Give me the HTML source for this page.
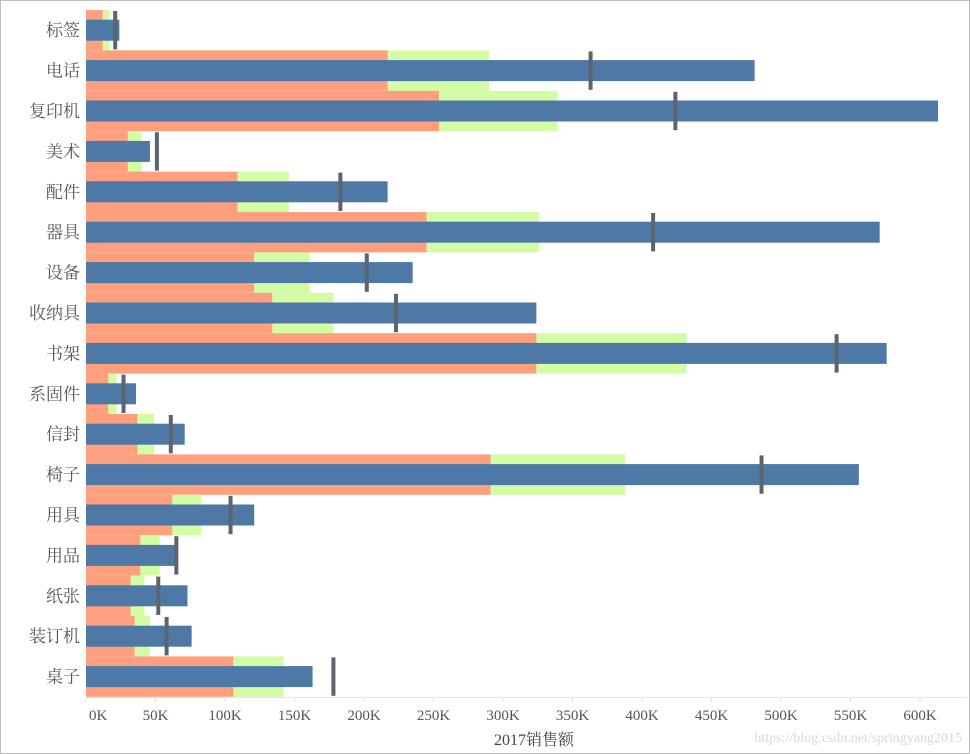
<!DOCTYPE html>
<html><head><meta charset="utf-8"><style>
body{margin:0;background:#fff;}
#wrap{position:relative;width:968px;height:752px;border:1px solid #bdbdbd;overflow:hidden;}
svg text{font-family:"Liberation Serif","Noto Serif CJK SC",serif;}
</style></head><body>
<div id="wrap">
<svg id="chart" width="968" height="752"></svg>
</div>
<script>
const categories=["标签","电话","复印机","美术","配件","器具","设备","收纳具","书架","系固件","信封","椅子","用具","用品","纸张","装订机","桌子"];
const lowBand=[12,217,254,30,109,245,121,134,324,16,37,291,62,39,32,35,106];
const highBand=[17,290,339,40,146,326,161,178,432,22,49,388,83,53,42,46,142];
const actual=[24,481,613,46,217,571,235,324,576,36,71,556,121,66,73,76,163];
const target=[21,363,424,51,183,408,202,223,540,27,61,486,104,65,52,58,178];
const ticks=[0,50,100,150,200,250,300,350,400,450,500,550,600];
const NS="http://www.w3.org/2000/svg";
const svg=document.getElementById('chart');
const x0=85,pxPerK=1.39,top0=9,rowH=40.4;
const xs=v=>x0+v*pxPerK;
const rowTop=i=>top0+i*rowH;
function mk(tag,attrs){const e=document.createElementNS(NS,tag);for(const k in attrs)e.setAttribute(k,attrs[k]);svg.appendChild(e);return e;}
categories.forEach((c,i)=>{
  const t=rowTop(i);
  let g=mk('rect',{x:x0,y:t,width:xs(highBand[i])-x0,height:rowH,fill:'#d3fca5'});
  
  
  let o=mk('rect',{x:x0,y:t,width:xs(lowBand[i])-x0,height:rowH,fill:'#fe9f80'});
  
  
  let b=mk('rect',{x:x0,y:t+rowH/2-10.5,width:xs(actual[i])-x0,height:21,fill:'#4e78a5'});
  
  
  let r=mk('rect',{x:xs(target[i])-2,y:t+1,width:4,height:rowH-2,fill:'#5d646e'});
  
  
  let l=mk('text',{x:79,y:t+rowH/2+6,'text-anchor':'end','font-size':'17',fill:'#555'});
  l.textContent=c;
  
  
});
let ax=mk('line',{x1:x0,x2:966,y1:696.5,y2:696.5,stroke:'#e6e6e6'});


ticks.forEach((v,i)=>{
  let tk=mk('line',{x1:xs(v),x2:xs(v),y1:697,y2:701,stroke:'#e0e0e0'});
  
  
  let tl=mk('text',{x:i==0?xs(v)+3:xs(v),y:719,'text-anchor':i==0?'start':'middle','font-size':'15',fill:'#555'});
  tl.textContent=v+'K';
  
  
});
let tt=mk('text',{x:533,y:744,'text-anchor':'middle','font-size':'16',fill:'#444'});
tt.textContent='2017销售额';


let wm=mk('text',{x:961,y:741,'text-anchor':'end','font-size':'14',fill:'#d8d8d8','font-family':'Liberation Sans, sans-serif'});
wm.textContent='https://blog.csdn.net/springyang2015';


</script>
</body></html>
